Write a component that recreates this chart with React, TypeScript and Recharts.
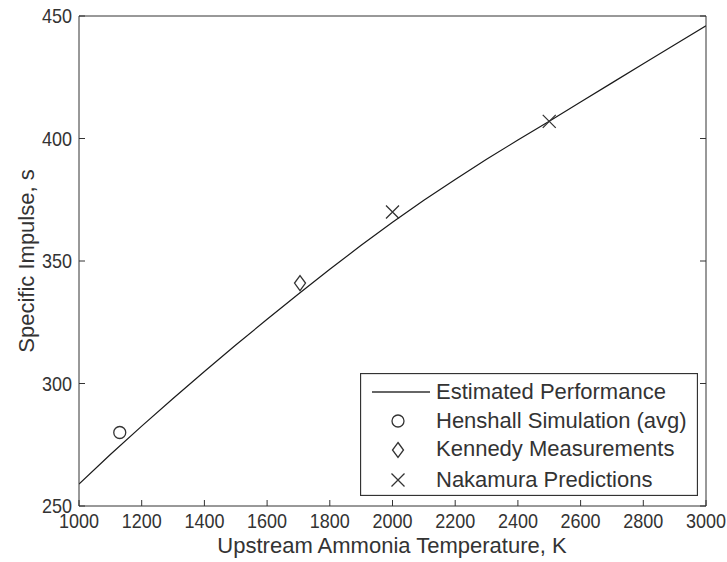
import React from "react";
import { ComposedChart, Line, Scatter, XAxis, YAxis, Legend, Label } from "recharts";

// estimated performance curve
const curveTemps = [1000, 1100, 1200, 1300, 1400, 1500, 1600, 1700, 1800, 1900, 2000, 2100, 2200, 2300, 2400, 2500, 2600, 2700, 2800, 2900, 3000];
const curveIsp = [259.0, 271.0, 282.6, 293.9, 304.9, 315.7, 326.2, 336.5, 346.6, 356.4, 365.8, 374.8, 383.3, 391.5, 399.4, 407.0, 414.9, 422.7, 430.5, 438.3, 446.0];

const henshallTemps = [1130];
const henshallIsp = [280];
const kennedyTemps = [1705];
const kennedyIsp = [341];
const nakamuraTemps = [2000, 2500];
const nakamuraIsp = [370, 407];

const xTicks = [1000, 1200, 1400, 1600, 1800, 2000, 2200, 2400, 2600, 2800, 3000];
const yTicks = [250, 300, 350, 400, 450];

const legendLabels = ["Estimated Performance", "Henshall Simulation (avg)", "Kennedy Measurements", "Nakamura Predictions"];

const toPoints = (t: number[], v: number[]) => t.map((temp, i) => ({ temp, isp: v[i] }));

const curve = toPoints(curveTemps, curveIsp);
const henshall = toPoints(henshallTemps, henshallIsp);
const kennedy = toPoints(kennedyTemps, kennedyIsp);
const nakamura = toPoints(nakamuraTemps, nakamuraIsp);

const INK = "#333";
const FONT = "'Liberation Sans', Arial, sans-serif";

const circleMark = (cx: number, cy: number) => (
  <circle cx={cx} cy={cy} r={6} fill="none" stroke={INK} strokeWidth={1.3} />
);
const diamondMark = (cx: number, cy: number) => (
  <path d={`M${cx},${cy - 7.5}L${cx + 5.5},${cy}L${cx},${cy + 7.5}L${cx - 5.5},${cy}Z`} fill="none" stroke={INK} strokeWidth={1.3} />
);
const crossMark = (cx: number, cy: number) => (
  <path d={`M${cx - 6.5},${cy - 6.5}L${cx + 6.5},${cy + 6.5}M${cx - 6.5},${cy + 6.5}L${cx + 6.5},${cy - 6.5}`} fill="none" stroke={INK} strokeWidth={1.3} />
);

// narrow tick digits like the original plot
const NarrowTick = (props: any) => {
  const { x, y, payload, textAnchor, verticalAnchor } = props;
  const label = String(payload.value);
  const dy = verticalAnchor === "start" ? "0.71em" : "0.355em";
  return (
    <text
      x={x}
      y={y}
      dy={dy}
      textAnchor={textAnchor}
      fontSize={21}
      fontFamily={FONT}
      fill={INK}
      textLength={label.length * 10}
      lengthAdjust="spacingAndGlyphs"
    >
      {label}
    </text>
  );
};

const LegendBox = () => (
  <svg width={338} height={123} style={{ display: "block" }}>
    <rect x={0.5} y={0.5} width={337} height={122} fill="#fff" stroke={INK} strokeWidth={1.3} />
    <line x1={12} y1={19} x2={70} y2={19} stroke={INK} strokeWidth={1.3} />
    {circleMark(38, 48)}
    {diamondMark(38, 77)}
    {crossMark(38, 107)}
    {legendLabels.map((l, i) => (
      <text key={l} x={76} y={[26, 55, 83, 114][i]} fontSize={22} fontFamily={FONT} fill={INK}>
        {l}
      </text>
    ))}
  </svg>
);

const blank = () => <g />;

export default function App() {
  return (
    <div style={{ position: "absolute", left: 0, top: 0, background: "#fff" }}>
      <ComposedChart width={727} height={562} margin={{ top: 15, right: 20, bottom: 0, left: 0 }}>
        <XAxis
          dataKey="temp"
          type="number"
          domain={[1000, 3000]}
          ticks={xTicks}
          allowDataOverflow
          height={56}
          tickSize={-6}
          tickMargin={13}
          stroke={INK}
          tick={NarrowTick}
        >
          <Label
            content={() => (
              <text x={392} y={553} textAnchor="middle" fontSize={22} fontFamily={FONT} fill={INK}>
                Upstream Ammonia Temperature, K
              </text>
            )}
          />
        </XAxis>
        <XAxis xAxisId="top" orientation="top" type="number" domain={[1000, 3000]} ticks={xTicks} allowDataOverflow height={1} tickSize={-6} stroke={INK} tick={blank} />
        <YAxis
          dataKey="isp"
          type="number"
          domain={[250, 450]}
          ticks={yTicks}
          allowDataOverflow
          width={79}
          tickSize={-6}
          tickMargin={13}
          stroke={INK}
          tick={NarrowTick}
        >
          <Label
            content={() => (
              <text x={34} y={261} transform="rotate(-90, 34, 261)" textAnchor="middle" fontSize={22} fontFamily={FONT} fill={INK}>
                Specific Impulse, s
              </text>
            )}
          />
        </YAxis>
        <YAxis yAxisId="right" orientation="right" type="number" domain={[250, 450]} ticks={yTicks} allowDataOverflow width={1} tickSize={-6} stroke={INK} tick={blank} />
        <Line data={curve} dataKey="isp" type="linear" stroke="#1a1a1a" strokeWidth={1.2} dot={false} isAnimationActive={false} />
        <Scatter data={henshall} dataKey="isp" isAnimationActive={false} shape={(p: any) => circleMark(p.cx, p.cy)} />
        <Scatter data={kennedy} dataKey="isp" isAnimationActive={false} shape={(p: any) => diamondMark(p.cx, p.cy)} />
        <Scatter data={nakamura} dataKey="isp" isAnimationActive={false} shape={(p: any) => crossMark(p.cx, p.cy)} />
        <Legend
          layout="horizontal"
          verticalAlign="middle"
          align="center"
          wrapperStyle={{ left: 360, top: 373, width: 338, height: 123 }}
          content={() => <LegendBox />}
        />
      </ComposedChart>
    </div>
  );
}
